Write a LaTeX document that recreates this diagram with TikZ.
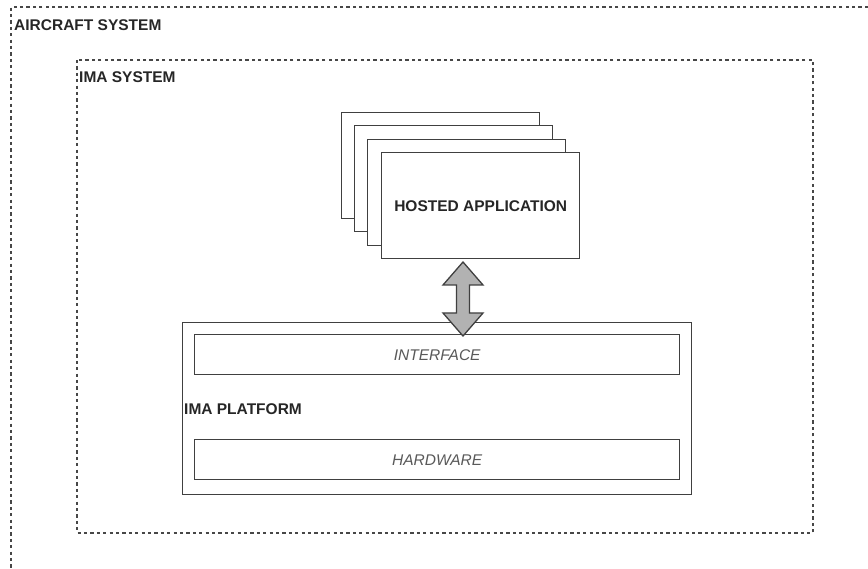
\documentclass[tikz,border=0pt]{standalone}
\usepackage{fontspec}
\setmainfont{Liberation Sans}
\usetikzlibrary{calc}

\begin{document}
\begin{tikzpicture}[x=1pt,y=-1pt,
    sysbox/.style={draw=black!72, line width=1.5pt, dash pattern=on 3.2pt off 3.2pt},
    solidbox/.style={draw=black!75, line width=1.4pt, fill=white, inner sep=0pt, anchor=north west},
    title/.style={font=\fontsize{15.5}{18}\selectfont\bfseries, text=black!85, inner sep=0pt, anchor=base west},
    appbox/.style={solidbox, minimum width=198pt, minimum height=106pt, font=\fontsize{15.5}{18}\selectfont\bfseries, text=black!85},
    layer/.style={solidbox, minimum width=485pt, minimum height=40pt, font=\fontsize{15.5}{18}\selectfont\itshape, text=black!65},
    linkarrow/.style={draw=black!75, line width=1.3pt, fill=black!30, line join=miter}]
    \useasboundingbox (0,0) rectangle (868,569);
    % outer system runs off the page
    \draw[sysbox] (868,7) -| (11,569);
    \node[title] (acs) at (14,31) {AIRCRAFT SYSTEM};
    \draw[sysbox] (77,60) rectangle (813,533);
    \node[title] (imas) at (79,83) {IMA SYSTEM};
    % stack of applications
    \foreach \x/\y [count=\i] in {341/112, 354/125, 367/139}
        \node[appbox] (app\i) at (\x,\y) {};
    \node[appbox] (app) at (381,152) {HOSTED APPLICATION};
    % platform
    \node[solidbox, minimum width=509pt, minimum height=172pt] (plat) at (182,322) {};
    \node[layer] (iface) at (194,334) {INTERFACE};
    \node[layer] (hw) at (194,439) {HARDWARE};
    \node[title] (platlbl) at (184,414) {IMA PLATFORM};
    % two way link
    \coordinate (lt) at (463,262);
    \coordinate (lb) at (463,336);
    \draw[linkarrow] (lt) -- ++(20,23) -- ++(-13.5,0) -- ($(lb)+(6.5,-23)$) -- ++(13.5,0) -- (lb)
        -- ++(-20,-23) -- ++(13.5,0) -- ($(lt)+(-6.5,23)$) -- ++(-13.5,0) -- cycle;
\end{tikzpicture}
\end{document}
